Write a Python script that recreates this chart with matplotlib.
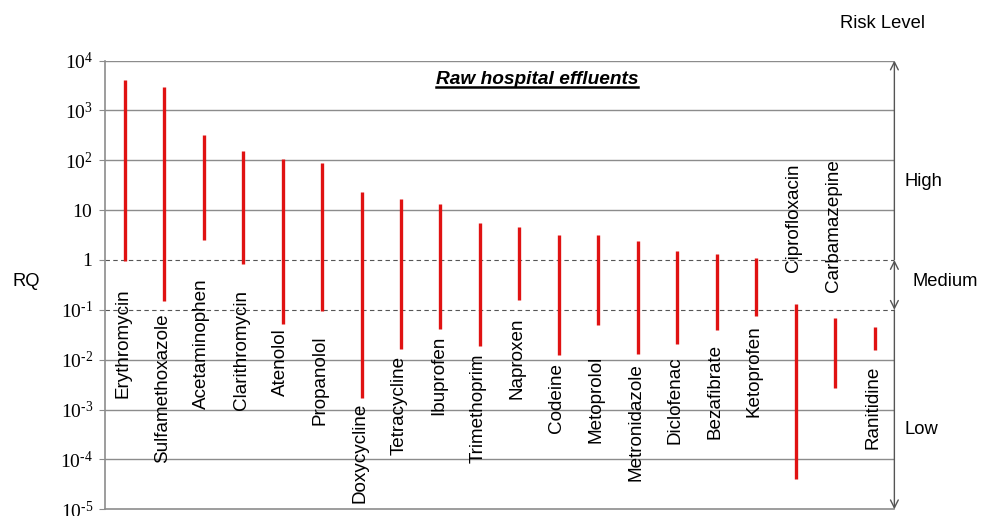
import numpy as np
import matplotlib
matplotlib.use("Agg")
import matplotlib.pyplot as plt
from matplotlib.lines import Line2D

plt.rcParams['font.family'] = ['Liberation Sans', 'DejaVu Sans']
plt.rcParams['mathtext.fontset'] = 'custom'
plt.rcParams['mathtext.rm'] = 'Liberation Serif'
plt.rcParams['mathtext.it'] = 'Liberation Serif:italic'
plt.rcParams['mathtext.bf'] = 'Liberation Serif:bold'

# Risk quotient ranges (min, max) per compound
compounds = ["Erythromycin", "Sulfamethoxazole", "Acetaminophen", "Clarithromycin",
             "Atenolol", "Propanolol", "Doxycycline", "Tetracycline", "Ibuprofen",
             "Trimethoprim", "Naproxen", "Codeine", "Metoprolol", "Metronidazole",
             "Diclofenac", "Bezafibrate", "Ketoprofen", "Ciprofloxacin",
             "Carbamazepine", "Ranitidine"]
rq_max = [4000, 3000, 320, 155, 106, 87, 22.6, 16.6, 13.2, 5.5, 4.6, 3.1, 3.1, 2.4,
          1.52, 1.34, 1.12, 0.133, 0.07, 0.046]
rq_min = [0.95, 0.148, 2.57, 0.82, 0.053, 0.093, 0.0017, 0.0166, 0.042, 0.019, 0.16,
          0.0125, 0.05, 0.013, 0.021, 0.039, 0.074, 4.0e-5, 0.0027, 0.0158]

# where each compound name sits (y in RQ units) and whether it hangs below or sits above
name_y = [0.27, 0.085, 0.43, 0.246, 0.042, 0.031, 0.0014, 0.012, 0.031, 0.0133,
          0.071, 0.0084, 0.012, 0.0084, 0.0116, 0.021, 0.049, 0.57, 0.227, 0.0076]
name_above = [False] * 17 + [True, True, False]

tick_vals = [1e-5, 1e-4, 1e-3, 1e-2, 1e-1, 1, 10, 1e2, 1e3, 1e4]
tick_text = [r"$10^{\text{-}5}$", r"$10^{\text{-}4}$", r"$10^{\text{-}3}$",
             r"$10^{\text{-}2}$", r"$10^{\text{-}1}$",
             r"$1$", r"$10$", r"$10^{2}$", r"$10^{3}$", r"$10^{4}$"]

risk_levels = ["High", "Medium", "Low"]

fig = plt.figure(figsize=(9.81, 5.16), dpi=100)
ax = fig.add_axes([0.107, 0.013, 0.8047, 0.8697])
ax.set_yscale('log')
ax.set_ylim(1e-5, 1e4)
ax.set_xlim(-0.5, len(compounds) - 0.5)

grid_col = '#8c8c8c'
for v in tick_vals[1:]:
    if v in (1, 0.1):
        ax.axhline(v, color='#555555', lw=0.8, ls=(0, (4, 3)), zorder=1)
    else:
        ax.axhline(v, color=grid_col, lw=1.0, zorder=1)

x = np.arange(len(compounds))
ax.vlines(x, rq_min, rq_max, color='#e01212', lw=2.4, zorder=3)

for xi, name, y, above in zip(x, compounds, name_y, name_above):
    ax.text(xi - 0.05, y, name, rotation=90, ha='center',
            va='bottom' if above else 'top', fontsize=13.6, zorder=4)

ax.set_yticks(tick_vals)
ax.set_yticklabels(tick_text, fontsize=14)
ax.yaxis.set_minor_locator(matplotlib.ticker.NullLocator())
ax.set_xticks([])
ax.tick_params(axis='y', length=4.5, width=0.8, color=grid_col, pad=4)
for s in ('top', 'right'):
    ax.spines[s].set_visible(False)
for s in ('left', 'bottom'):
    ax.spines[s].set_color(grid_col)
    ax.spines[s].set_linewidth(1.2)

# risk level arrows on the right edge
xr = len(compounds) - 0.5
akw = dict(arrowstyle='->', color='#555555', lw=1.0, mutation_scale=14,
           shrinkA=0, shrinkB=0)
ax.annotate('', xy=(xr, 1e4), xytext=(xr, 1), xycoords='data',
            arrowprops=akw, annotation_clip=False)
ax.annotate('', xy=(xr, 0.1), xytext=(xr, 1), xycoords='data',
            arrowprops=dict(akw, arrowstyle='<->'), annotation_clip=False)
ax.annotate('', xy=(xr, 1e-5), xytext=(xr, 0.1), xycoords='data',
            arrowprops=akw, annotation_clip=False)

level_x = [904, 913, 905]
level_y = [181, 282, 429]
for name, px, py in zip(risk_levels, level_x, level_y):
    fig.text(px / 981, 1 - py / 516, name, ha='left', va='center', fontsize=13.2)
fig.text(840 / 981, 1 - 23 / 516, "Risk Level", ha='left', va='center', fontsize=13.2)
fig.text(12 / 981, 1 - 282 / 516, "RQ", ha='left', va='center', fontsize=13.2)

title = fig.text(537 / 981, 1 - 80 / 516, "Raw hospital effluents", ha='center',
                 va='center', fontsize=13.8, fontweight='bold', fontstyle='italic')
fig.canvas.draw()
bb = title.get_window_extent().transformed(fig.transFigure.inverted())
fig.add_artist(Line2D([bb.x0, bb.x1], [bb.y0 + 0.002, bb.y0 + 0.002],
                      color='black', lw=1.8, transform=fig.transFigure))

fig.savefig("out.png", dpi=100)
